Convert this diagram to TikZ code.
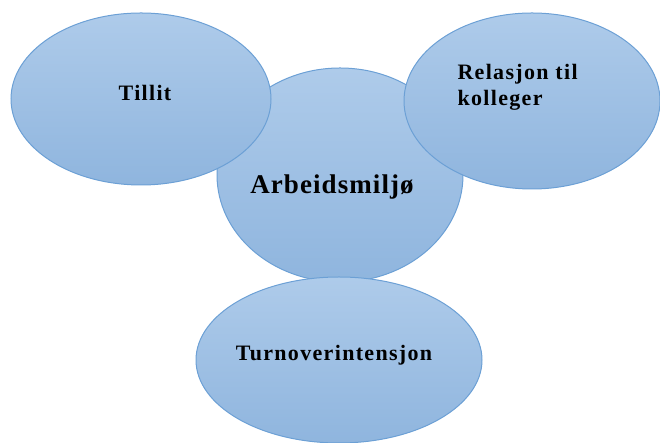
\documentclass[tikz,border=0pt]{standalone}
\usepackage{fontspec}
\setmainfont{Liberation Serif}
\begin{document}
\definecolor{bubbletop}{RGB}{174,203,234}
\definecolor{bubblebottom}{RGB}{143,181,222}
\definecolor{bubbleedge}{RGB}{108,160,213}
\begin{tikzpicture}[x=1pt,y=1pt,
  bubble/.style={draw=bubbleedge, line width=1pt, top color=bubbletop, bottom color=bubblebottom},
  label/.style={text=black, align=left},
  small/.style={font=\fontsize{22}{26}\selectfont\bfseries\addfontfeatures{LetterSpace=6}},
  big/.style={font=\fontsize{27}{31}\selectfont\bfseries\addfontfeatures{LetterSpace=4}}]
\useasboundingbox (0,0) rectangle (660,443);
\begin{scope}
\clip (0,0) rectangle (660,443);
% central topic drawn first, the three factors overlap it
\path[bubble] (340,268) ellipse [x radius=123, y radius=107];
\path[bubble] (141,344) ellipse [x radius=130, y radius=86];
\path[bubble] (532,342) ellipse [x radius=128, y radius=88];
\path[bubble] (339,83) ellipse [x radius=143, y radius=83];
\end{scope}
\node[label, big] (arb) at (332,256) {Arbeidsmiljø};
\node[label, small] (til) at (145,350) {Tillit};
\node[label, small, anchor=north west] (rel) at (454,382) {Relasjon til\\kolleger};
\node[label, small] (turn) at (334,88) {Turnoverintensjon};
\end{tikzpicture}
\end{document}
